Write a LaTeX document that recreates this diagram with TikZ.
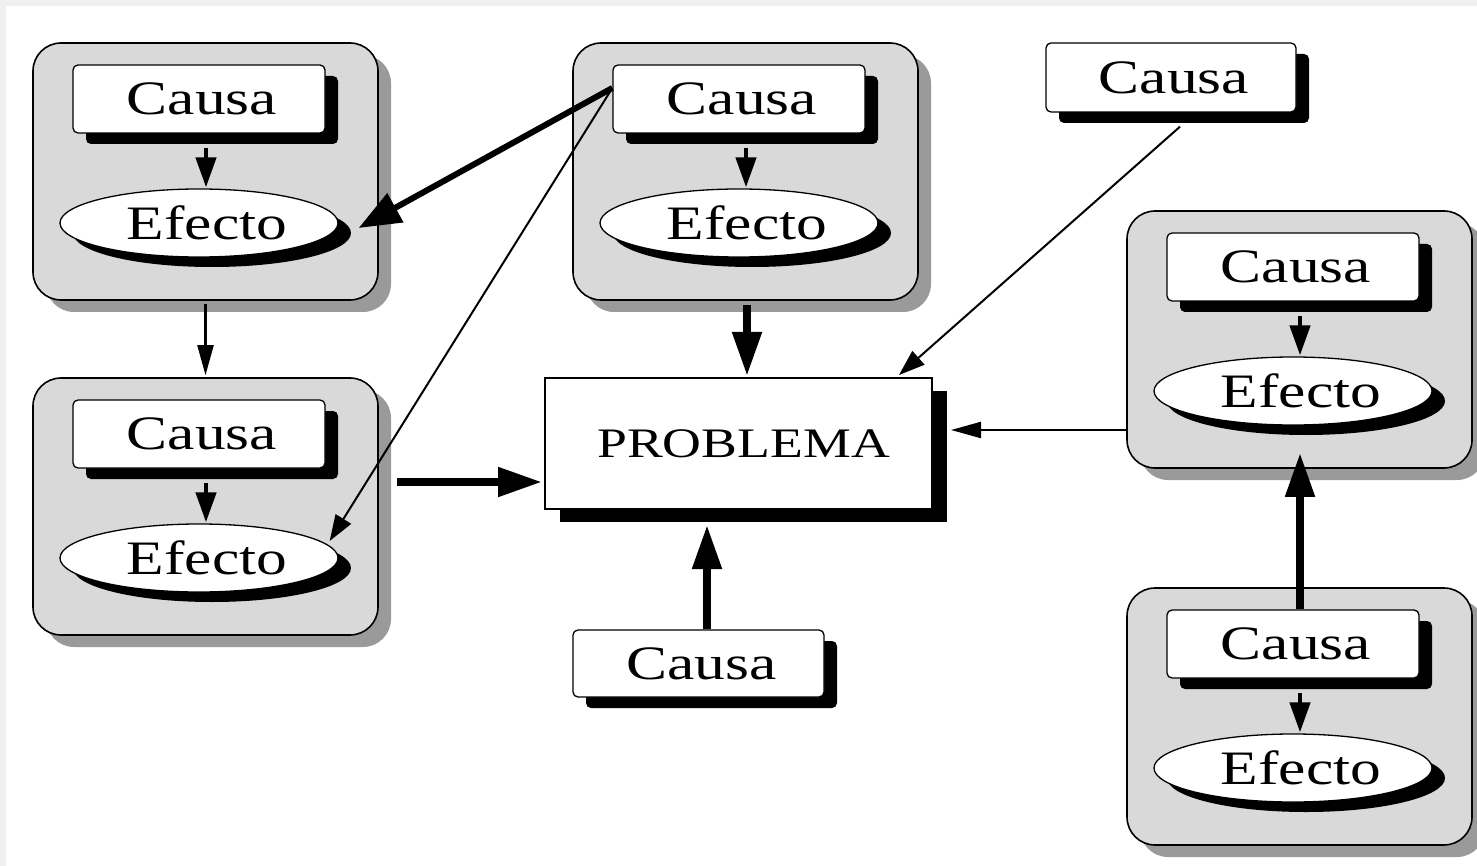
\documentclass[tikz,border=0pt]{standalone}
\usepackage{fontspec}
\setmainfont{Liberation Serif}
\usetikzlibrary{arrows.meta,shadows,calc,shapes.geometric}
\definecolor{framegray}{HTML}{F0F0F0}
\definecolor{groupfill}{HTML}{D9D9D9}
\definecolor{groupshade}{HTML}{9A9A9A}
% wide serif lettering, nudged right inside its frame
\newcommand\stretchtxt[2]{\hspace*{#1}\scalebox{1.28}[1]{#2}}
\begin{document}
\begin{tikzpicture}[x=1pt,y=-1pt,
  groupbox/.style={draw=black,line width=1.6pt,fill=groupfill,rounded corners=28pt,
    minimum width=345pt,minimum height=257pt,inner sep=0pt,
    drop shadow={shadow xshift=13pt,shadow yshift=-12pt,fill=groupshade,opacity=1}},
  causabox/.style={draw=black,line width=1.3pt,fill=white,rounded corners=5pt,
    minimum width=252pt,minimum height=68pt,inner sep=0pt,
    font=\fontsize{48}{48}\selectfont,
    drop shadow={shadow xshift=13pt,shadow yshift=-11pt,fill=black,opacity=1}},
  efectobox/.style={draw=black,line width=1.3pt,fill=white,ellipse,
    minimum width=278pt,minimum height=68pt,inner sep=0pt,
    font=\fontsize{48}{48}\selectfont,
    drop shadow={shadow xshift=13pt,shadow yshift=-10pt,fill=black,opacity=1}},
  problembox/.style={draw=black,line width=2pt,fill=white,
    minimum width=387pt,minimum height=131pt,inner sep=0pt,
    font=\fontsize{42}{42}\selectfont,
    drop shadow={shadow xshift=15pt,shadow yshift=-13pt,fill=black,opacity=1}},
  inarrow/.style={line width=4.5pt,-{Triangle[length=30pt,width=20pt]}},
  thinarrow/.style={line width=2.2pt,-{Triangle[length=30pt,width=16pt]}},
  slimarrow/.style={line width=2pt,-{Triangle[length=26pt,width=18pt]}},
  thickarrow/.style={line width=8pt,-{Triangle[length=44pt,width=28pt]}},
  diagarrow/.style={line width=6pt,-{Triangle[length=42pt,width=32pt]}}
]
% page background with its light frame
\fill[framegray] (0,0) rectangle (1477,866);
\fill[white] (6,6) rectangle (1477,866);
\useasboundingbox (0,0) rectangle (1477,866);

% grouped cause/effect pairs
\node[groupbox] (g1) at (205.5,171.5) {};
\node[groupbox] (g2) at (205.5,506.5) {};
\node[groupbox] (g3) at (745.5,171.5) {};
\node[groupbox] (g4) at (1299.5,339.5) {};
\node[groupbox] (g5) at (1299.5,716.5) {};

\node[causabox] (c1) at (199,99) {\stretchtxt{6pt}{Causa}};
\node[causabox] (c2) at (199,434) {\stretchtxt{6pt}{Causa}};
\node[causabox] (c3) at (739,99) {\stretchtxt{6pt}{Causa}};
\node[causabox] (c4) at (1293,267) {\stretchtxt{6pt}{Causa}};
\node[causabox] (c5) at (1293,644) {\stretchtxt{6pt}{Causa}};

\node[efectobox] (e1) at (199,223) {\stretchtxt{16pt}{Efecto}};
\node[efectobox] (e2) at (199,558) {\stretchtxt{16pt}{Efecto}};
\node[efectobox] (e3) at (739,223) {\stretchtxt{16pt}{Efecto}};
\node[efectobox] (e4) at (1293,391) {\stretchtxt{16pt}{Efecto}};
\node[efectobox] (e5) at (1293,768) {\stretchtxt{16pt}{Efecto}};

% standalone causes
\node[causabox,minimum width=250pt,minimum height=69pt] (s1) at (1171,77.5) {\stretchtxt{6pt}{Causa}};
\node[causabox,minimum width=251pt,minimum height=67pt] (s2) at (698.5,663.5) {\stretchtxt{6pt}{Causa}};

% central problem
\node[problembox] (p) at (738.5,443.5) {\stretchtxt{10pt}{PROBLEMA}};

% cause -> effect inside each group
\foreach \i in {1,...,5}{
  \draw[inarrow] ([xshift=7pt,yshift=-14pt]c\i.south) -- ([xshift=7pt,yshift=1pt]e\i.north);
}

% links between groups and to the problem
\draw[diagarrow] ([yshift=11pt]c3.west) -- ([xshift=20pt,yshift=-5pt]e1.east);
\draw[slimarrow] ([yshift=11pt]c3.west) -- ([xshift=-9pt,yshift=17pt]e2.east);
\draw[thinarrow] ([yshift=-3pt]g1.south) -- ([yshift=2pt]g2.north);
\draw[thickarrow] ([xshift=18pt,yshift=24.5pt]g2.east) -- ([xshift=-2pt,yshift=-38.5pt]p.west);
\draw[thickarrow] ([xshift=1.5pt,yshift=-4pt]g3.south) -- ([xshift=8.5pt,yshift=1pt]p.north);
\draw[slimarrow] ([xshift=9pt,yshift=-14pt]s1.south) -- ([xshift=-34pt,yshift=2pt]p.north east);
\draw[thinarrow] ([yshift=-90.5pt]g4.west) -- ([xshift=18pt,yshift=13.5pt]p.east);
\draw[thickarrow] ([xshift=8.5pt]s2.north) -- ([xshift=-31.5pt,yshift=-15pt]p.south);
\draw[thickarrow] ([xshift=7pt]c5.north) -- ([xshift=0.5pt,yshift=16pt]g4.south);
\end{tikzpicture}
\end{document}
